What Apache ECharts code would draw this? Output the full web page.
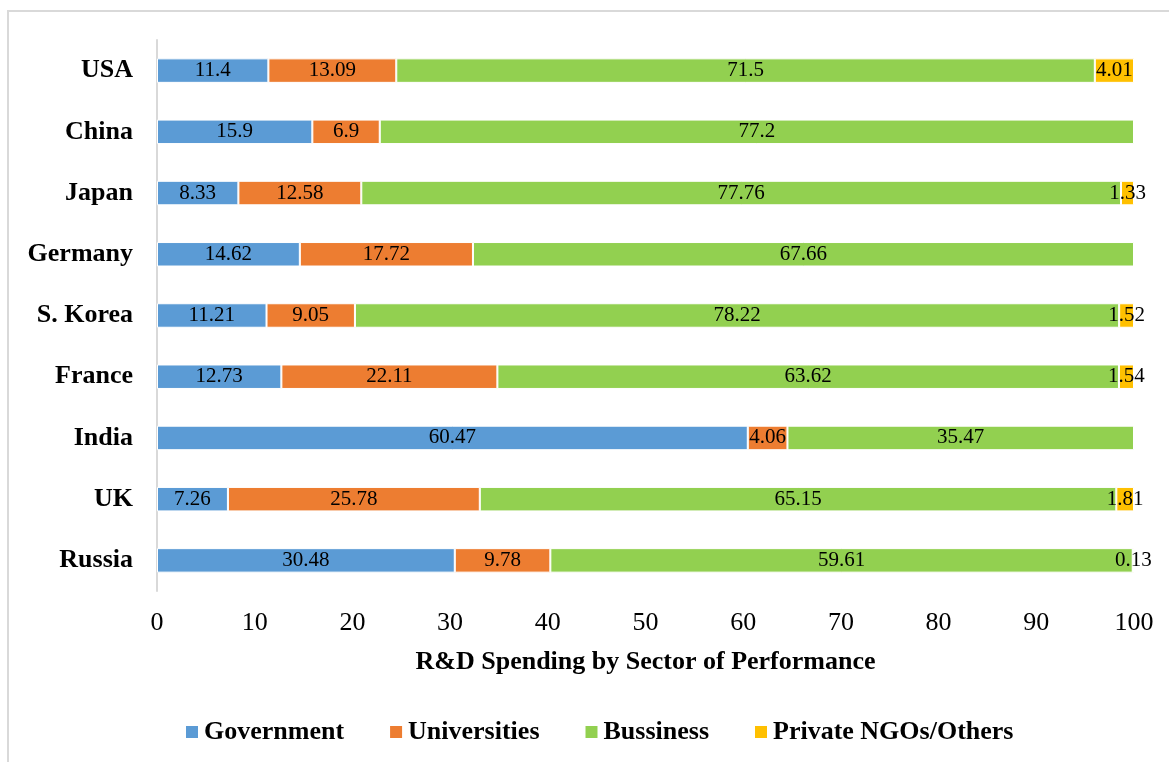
<!DOCTYPE html>
<html>
<head>
<meta charset="utf-8">
<script src="https://cdn.jsdelivr.net/npm/echarts@6/dist/echarts.min.js"></script>
<style>
  html, body { margin: 0; padding: 0; background: #fff; }
  #chart { width: 1169px; height: 762px; }
</style>
</head>
<body>
<div id="chart"></div>
<script>
// Countries, top to bottom
const countries = ['USA', 'China', 'Japan', 'Germany', 'S. Korea', 'France', 'India', 'UK', 'Russia'];
// Share of R&D spending (%) by sector of performance
const government   = [11.4, 15.9, 8.33, 14.62, 11.21, 12.73, 60.47, 7.26, 30.48];
const universities = [13.09, 6.9, 12.58, 17.72, 9.05, 22.11, 4.06, 25.78, 9.78];
const business     = [71.5, 77.2, 77.76, 67.66, 78.22, 63.62, 35.47, 65.15, 59.61];
const privateNGO   = [4.01, null, 1.33, null, 1.52, 1.54, null, 1.81, 0.13];
const xTicks = [0, 10, 20, 30, 40, 50, 60, 70, 80, 90, 100];

const serif = '"Liberation Serif", "DejaVu Serif", serif';

function makeSeries(name, data, color) {
  return {
    name: name,
    type: 'bar',
    stack: 'total',
    data: data,
    barCategoryGap: '60%',
    itemStyle: { color: color, borderColor: '#ffffff', borderWidth: 1 },
    label: {
      show: true,
      position: 'inside',
      color: '#000',
      fontFamily: serif,
      fontSize: 21,
      formatter: p => (p.value == null ? '' : String(p.value))
    },
    emphasis: { disabled: true }
  };
}

const chart = echarts.init(document.getElementById('chart'), null, { renderer: 'canvas' });
chart.setOption({
  animation: false,
  backgroundColor: '#ffffff',
  graphic: [{
    type: 'rect',
    shape: { x: 8, y: 11, width: 1200, height: 800 },
    style: { fill: 'none', stroke: '#d9d9d9', lineWidth: 2 },
    silent: true,
    z: -1
  }],
  grid: { left: 157, right: 35, top: 40, bottom: 171, containLabel: false },
  legend: {
    bottom: 12,
    left: 179,
    itemWidth: 14,
    itemHeight: 14,
    itemGap: 44,
    icon: 'rect',
    textStyle: { fontFamily: serif, fontSize: 26, fontWeight: 'bold', color: '#000' },
    data: ['Government', 'Universities', 'Bussiness', 'Private NGOs/Others']
  },
  xAxis: {
    type: 'value',
    min: 0,
    max: 100,
    interval: 10,
    name: 'R&D Spending by Sector of Performance',
    nameLocation: 'middle',
    nameGap: 58,
    nameTextStyle: { fontFamily: serif, fontSize: 26, fontWeight: 'bold', color: '#000' },
    axisLine: { show: false },
    axisTick: { show: false },
    splitLine: { show: false },
    axisLabel: {
      fontFamily: serif, fontSize: 26, color: '#000', margin: 19,
      formatter: v => (xTicks.includes(v) ? String(v) : '')
    }
  },
  yAxis: {
    type: 'category',
    inverse: true,
    data: countries,
    axisLine: { show: true, lineStyle: { color: '#d9d9d9', width: 2 } },
    axisTick: { show: false },
    axisLabel: {
      fontFamily: serif, fontSize: 26, fontWeight: 'bold', color: '#000', margin: 24
    }
  },
  series: [
    makeSeries('Government', government, '#5b9bd5'),
    makeSeries('Universities', universities, '#ed7d31'),
    makeSeries('Bussiness', business, '#92d050'),
    makeSeries('Private NGOs/Others', privateNGO, '#ffc000')
  ]
});
</script>
</body>
</html>
